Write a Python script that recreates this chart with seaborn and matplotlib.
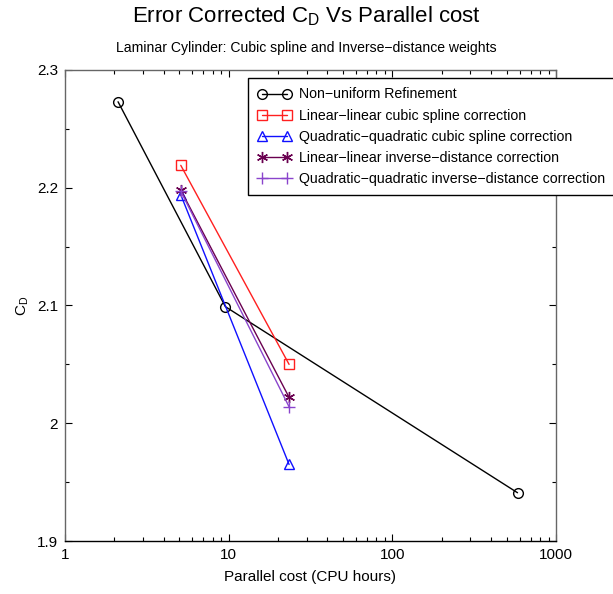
import seaborn as sns
import matplotlib.pyplot as plt
from matplotlib.ticker import LogLocator, MultipleLocator, FixedLocator, NullFormatter

# CPU hours and CD values
cost_nonuniform = [2.11, 9.55, 582]
cd_nonuniform = [2.273, 2.099, 1.941]

cost_corr = [5.1, 23.4]
cd_ll_spline = [2.219, 2.050]
cd_qq_spline = [2.194, 1.965]
cd_ll_idw = [2.198, 2.022]
cd_qq_idw = [2.197, 2.014]

labels = ["Non\u2212uniform Refinement",
          "Linear\u2212linear cubic spline correction",
          "Quadratic\u2212quadratic cubic spline correction",
          "Linear\u2212linear inverse\u2212distance correction",
          "Quadratic\u2212quadratic inverse\u2212distance correction"]

sns.set_theme(style="ticks")
plt.rcParams['font.family'] = ['Liberation Sans', 'DejaVu Sans']
plt.rcParams['mathtext.fontset'] = 'custom'
plt.rcParams['mathtext.rm'] = 'Liberation Sans'
plt.rcParams['text.color'] = 'black'
plt.rcParams['axes.labelcolor'] = 'black'

fig = plt.figure(figsize=(6.13, 5.94), dpi=100)
ax = fig.add_axes([0.106, 0.0892, 0.801, 0.793])

series = [
    (cost_nonuniform, cd_nonuniform, "black", "o", 7),
    (cost_corr, cd_ll_spline, "#ff2020", "s", 6.5),
    (cost_corr, cd_qq_spline, "#1010ff", "^", 7.5),
    (cost_corr, cd_ll_idw, "#6a0050", (6, 2, 0), 8),
    (cost_corr, cd_qq_idw, "#8a44cc", "+", 9),
]
for (xs, ys, col, mk, ms), lab in zip(series, labels):
    sns.lineplot(x=xs, y=ys, ax=ax, color=col, marker=mk, markersize=ms,
                 markerfacecolor="none", markeredgecolor=col, markeredgewidth=1,
                 linewidth=1, label=lab)

ax.set_xscale("log")
ax.set_xlim(1, 1000)
ax.set_ylim(1.9, 2.3)
ax.xaxis.set_major_locator(FixedLocator([1, 10, 100, 1000]))
ax.xaxis.set_minor_locator(LogLocator(base=10, subs=range(2, 10)))
ax.xaxis.set_minor_formatter(NullFormatter())
ax.set_xticklabels(["1", "10", "100", "1000"])
ax.yaxis.set_major_locator(MultipleLocator(0.1))
ax.yaxis.set_minor_locator(MultipleLocator(0.05))
ax.set_yticks([1.9, 2.0, 2.1, 2.2, 2.3])
ax.set_yticklabels(["1.9", "2", "2.1", "2.2", "2.3"])
ax.tick_params(which="both", direction="in", top=True, right=True,
               labelsize=11, colors="black")
ax.tick_params(which="major", length=5, width=0.8, pad=5)
ax.tick_params(which="minor", length=3, width=0.8)
for side in ["left", "top", "right"]:
    ax.spines[side].set_color("#666666")
ax.spines["bottom"].set_color("black")
for s in ax.spines.values():
    s.set_linewidth(1)

ax.set_xlabel("Parallel cost (CPU hours)", fontsize=11, labelpad=6)
ax.set_ylabel(r"C$_\mathregular{D}$", fontsize=11, labelpad=4)

fig.text(0.5, 0.972, r"Error Corrected C$_\mathregular{D}$ Vs Parallel cost",
         ha="center", va="center", fontsize=16)
fig.text(0.5, 0.919, "Laminar Cylinder: Cubic spline and Inverse\u2212distance weights",
         ha="center", va="center", fontsize=10.1)

leg = ax.legend(loc="upper left", bbox_to_anchor=(0.373, 0.983), borderaxespad=0,
                fontsize=10.2, numpoints=2, handlelength=2.35, handletextpad=0.6,
                labelspacing=0.5, borderpad=0.67, fancybox=False, framealpha=1,
                edgecolor="black")
leg.get_frame().set_linewidth(1)

fig.savefig("out.png", dpi=100)
